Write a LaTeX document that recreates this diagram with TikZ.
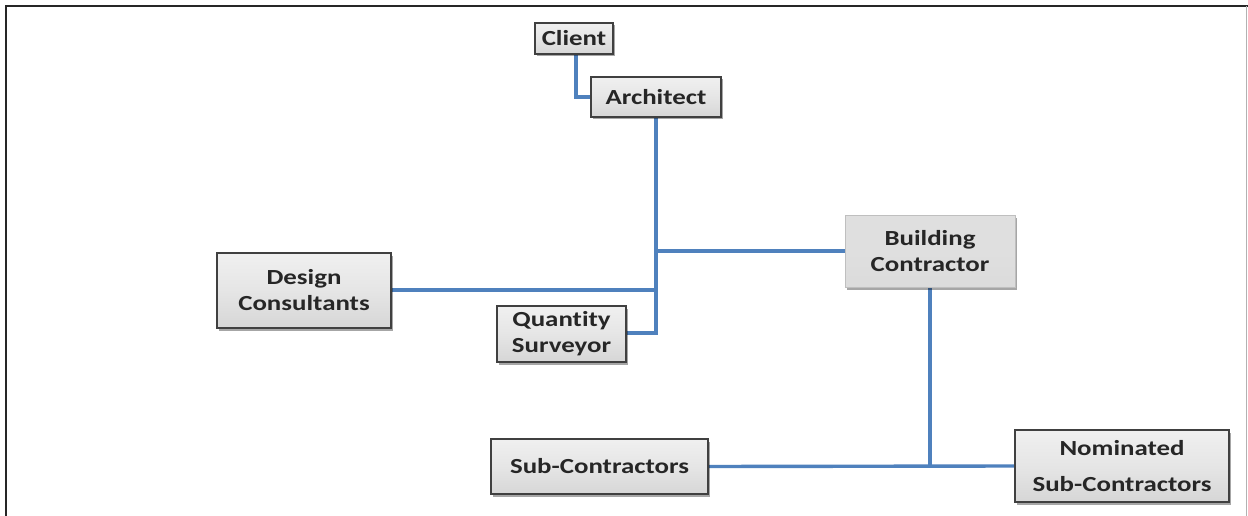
\documentclass[tikz,border=0pt]{standalone}
\usepackage{fontspec}
\setmainfont{Carlito}[FakeStretch=1.25, Ligatures=NoCommon]
\usetikzlibrary{shadows,backgrounds}
\definecolor{lineblue}{HTML}{4F81BD}
\begin{document}
\begin{tikzpicture}[x=1pt,y=-1pt,
  box/.style={rectangle, draw=black!75, line width=1.8pt, inner sep=0pt,
    top color=gray!12, bottom color=gray!32, middle color=gray!20,
    text=black!85, align=center, font=\bfseries\fontsize{21.5}{26}\selectfont,
    drop shadow={shadow xshift=2pt, shadow yshift=-2.5pt, fill=black, opacity=0.35}},
  lightbox/.style={box, draw=gray!50, line width=1pt, top color=gray!25, bottom color=gray!28, middle color=gray!25},
  link/.style={draw=lineblue, line width=3.4pt}]
\useasboundingbox (0,0) rectangle (1248,516);
% nodes
\node[box, minimum width=78, minimum height=31] (client) at (574,38.5) {Client};
\node[box, minimum width=130, minimum height=40] (arch) at (656,97) {Architect};
\node[box, minimum width=174, minimum height=75] (dc) at (304,290.5) {Design\\Consultants};
\node[box, minimum width=129, minimum height=56] (qs) at (561.5,334) {Quantity\\Surveyor};
\node[lightbox, minimum width=170, minimum height=72] (bc) at (930,251) {Building\\Contractor};
\node[box, minimum width=217, minimum height=55] (sc) at (599.5,466.5) {Sub-Contractors};
\node[box, minimum width=214, minimum height=72] (nsc) at (1122,466) {Nominated\\[10pt]Sub-Contractors};
\begin{pgfonlayer}{background}
\fill[white] (0,0) rectangle (1248,516);
% frame
\draw[black!85, line width=2.8pt] (6,516) -- (6,6) -- (1248,6);
\draw[gray!60, line width=1pt] (1246,6) -- (1246,516);
% connectors
\path[link] ([xshift=2pt]client.south) |- (arch.west);
\path[link] (arch.south) |- ([yshift=1pt]qs.east);
\path[link] ([yshift=0.5pt]dc.east) -- ([yshift=0.5pt]dc.east -| arch.south);
\path[link] (bc.west) -- (bc.west -| arch.south);
\path[link] (bc.south) -- (bc.south |- sc.east);
\path[link] (sc.east) -- (nsc.west);
\end{pgfonlayer}
\end{tikzpicture}
\end{document}
